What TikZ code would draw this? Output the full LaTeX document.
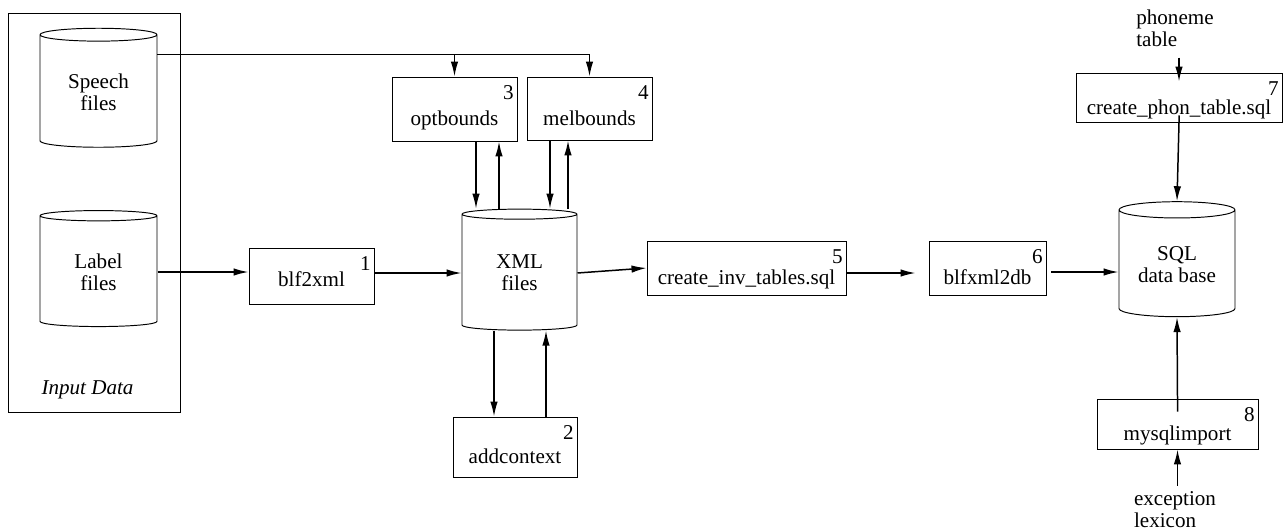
\documentclass[tikz,border=0pt]{standalone}
\usepackage{fontspec}
\setmainfont{Liberation Serif}
\usetikzlibrary{shapes.geometric,arrows.meta}
\tikzstyle{proc}=[draw, line width=0.55pt, inner ysep=1pt, text height=21.8pt, text depth=3pt]
\tikzstyle{store}=[draw, line width=0.55pt, cylinder, shape border rotate=90, aspect=0.2, align=center, inner sep=1pt]
\tikzstyle{flow}=[-{Latex[length=3mm,width=1.5mm]}, line width=0.85pt]
\tikzset{stepnum/.style={label={[anchor=north east,inner xsep=2pt,inner ysep=5pt]north east:#1}}}

\begin{document}
\begin{tikzpicture}[font=\fontsize{12}{12.5}\selectfont]
  \useasboundingbox (0,0) rectangle (25.72,-10.62);

  %% Input data
  \draw (1.88,-4.25) node[draw, line width=0.55pt, minimum width=3.44cm, minimum height=7.98cm] (inputbox) {};
  \draw (1.97,-1.84) node[store, minimum width=2.34cm, minimum height=2.38cm] (speech) {Speech\\files};
  \draw (1.97,-5.44) node[store, minimum width=2.34cm, minimum height=2.32cm] (labelfiles) {Label\\files};
  \draw (1.75,-7.8) node (inputlbl) {\itshape Input Data};

  %% Processing steps
  \draw (6.23,-5.52) node[proc, text height=15.5pt, minimum width=2.5cm, minimum height=1.12cm, stepnum=1] (blf2xml) {blf2xml};
  \draw (10.39,-5.46) node[store, minimum width=2.3cm, minimum height=2.42cm] (xml) {XML\\files};
  \draw (9.09,-2.18) node[proc, minimum width=2.5cm, minimum height=1.28cm, stepnum=3] (optbounds) {optbounds};
  \draw (11.79,-2.17) node[proc, minimum width=2.5cm, minimum height=1.26cm, stepnum=4] (melbounds) {melbounds};
  \draw (10.30,-8.94) node[proc, minimum width=2.48cm, minimum height=1.2cm, stepnum=2] (addcontext) {addcontext};
  \draw (14.93,-5.36) node[proc, minimum width=3.98cm, minimum height=1.08cm, stepnum=5] (createinv) {create\_inv\_tables.sql};
  \draw (19.75,-5.36) node[proc, minimum width=2.34cm, minimum height=1.08cm, stepnum=6] (blfxml2db) {blfxml2db};

  %% Data base
  \draw (23.54,-5.29) node[store, minimum width=2.32cm, minimum height=2.3cm] (sql) {SQL\\data base};
  \draw (23.58,-1.95) node[proc, minimum width=4.12cm, minimum height=0.98cm, stepnum=7] (createphon) {create\_phon\_table.sql};
  \draw (23.55,-8.48) node[proc, minimum width=3.22cm, minimum height=1.0cm, stepnum=8] (mysqlimport) {mysqlimport};
  \draw (23.5,-0.56) node[align=left] (phoneme) {phoneme\\table};
  \draw (23.5,-10.2) node[align=left] (exception) {exception\\lexicon};

  %% Helper points
  \coordinate (sbranch) at ([yshift=0.75cm]speech.east);
  \coordinate (xt1) at ([xshift=-0.87cm]xml.north);
  \coordinate (xt2) at ([xshift=-0.41cm]xml.north);
  \coordinate (xt3) at ([xshift=0.61cm]xml.north);
  \coordinate (xt4) at ([xshift=0.97cm]xml.north);
  \coordinate (xb1) at ([xshift=-0.51cm]xml.south);
  \coordinate (xb2) at ([xshift=0.53cm]xml.south);
  \coordinate (ci) at ([yshift=-0.1cm]createinv.east);
  \coordinate (bd) at ([yshift=-0.08cm]blfxml2db.east);

  %% Connections
  \draw[flow] (sbranch) -| (melbounds.north);
  \draw[flow] (optbounds.north |- sbranch) -- (optbounds.north);
  \draw[flow] (labelfiles.east) -- (labelfiles.east -| blf2xml.west);
  \draw[flow] (xml.west -| blf2xml.east) -- (xml.west);

  \draw[flow] (optbounds.south -| xt1) -- (xt1);
  \draw[flow] (xt2) -- (optbounds.south -| xt2);
  \draw[flow] (melbounds.south -| xt3) -- (xt3);
  \draw[flow] (xt4) -- (melbounds.south -| xt4);
  \draw[flow] (xb1) -- (addcontext.north -| xb1);
  \draw[flow] (addcontext.north -| xb2) -- (xb2);

  \draw[flow] (xml.east) -- (createinv.west);
  \draw[flow, shorten >=0.26cm] (ci) -- (ci -| blfxml2db.west);
  \draw[flow, shorten <=0.1cm] (bd) -- (bd -| sql.west);

  \draw[flow, shorten <=0.1cm, shorten >=-0.18cm] (createphon.north |- phoneme.south) -- (createphon.north);
  \draw[flow, shorten <=-0.14cm] (createphon.south) -- (sql.north);
  \draw[flow, shorten <=-0.26cm] (mysqlimport.north) -- (sql.south);
  \draw[flow] (mysqlimport.south |- exception.north) -- (mysqlimport.south);
\end{tikzpicture}
\end{document}
